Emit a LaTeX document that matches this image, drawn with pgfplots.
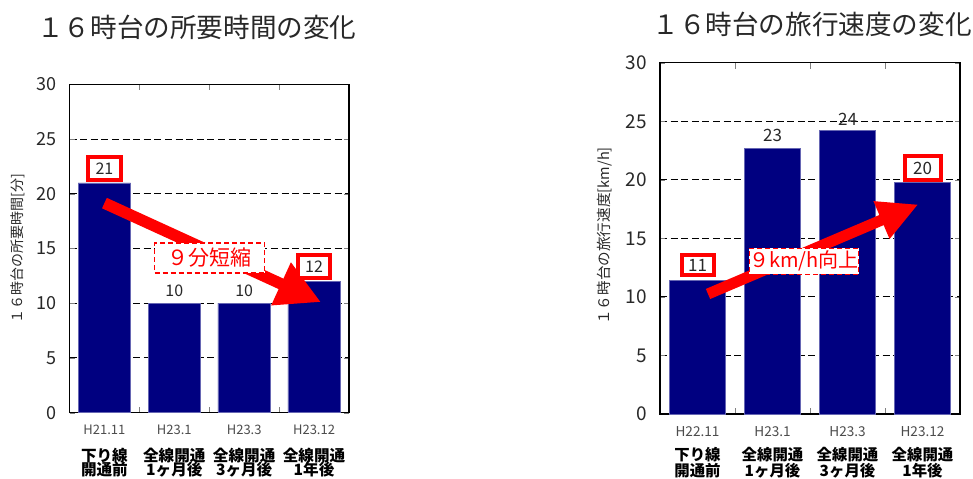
\documentclass[border=0pt]{standalone}
\usepackage{pgfplots}
\pgfplotsset{compat=1.18}
\usepackage{fontspec}
\setmainfont{Noto Sans CJK JP}
\usetikzlibrary{arrows.meta}
\definecolor{barnavy}{RGB}{0,0,128}
\definecolor{annred}{RGB}{255,0,0}
\definecolor{txtgray}{RGB}{40,40,40}
\newcommand\tightlines{\setlength{\lineskiplimit}{-20pt}\setlength{\lineskip}{0pt}}
\pgfplotsset{
  mybars/.style={
    scale only axis,
    ybar, bar width=0.75, bar shift=0pt,
    xmin=-0.5, xmax=3.5, ymin=0, ymax=30,
    ytick={0,5,...,30},
    xtick={0,1,2,3},
    minor xtick={0.5,1.5,2.5},
    major x tick style={draw=none},
    minor tick length=3pt,
    major tick length=2.5pt,
    tick align=inside,
    ymajorgrids,
    grid style={black, dash pattern=on 3.5pt off 1.8pt, line width=0.5pt},
    axis line style={black, line width=0.6pt},
    /pgf/number format/assume math mode=true,
    xticklabel style={align=center, anchor=north},
    yticklabel style={text=txtgray, xshift=-3pt},
    ylabel style={anchor=center, text=txtgray},
    title style={anchor=center, text=txtgray, font=\fontsize{13.3}{15}\selectfont},
  },
}
\tikzset{
  valbox/.style={draw=annred, line width=2pt, fill=white, inner sep=0pt, text=txtgray},
  dbox/.style={draw=annred, line width=0.6pt, dash pattern=on 2.5pt off 1.5pt, fill=white, inner sep=0pt, text=annred},
}
\begin{document}
\begin{tikzpicture}[x=1pt,y=1pt]
\useasboundingbox (0,0) rectangle (486.5,239);
% ---------------- left chart ----------------
\begin{axis}[mybars,
  at={(34.75pt,32.65pt)}, anchor=south west,
  width=139.75pt, height=164.2pt,
  yticklabel style={font=\fontsize{9}{10}\selectfont},
  xticklabel style={font=\fontsize{7.8}{7}\selectfont\tightlines, yshift=-2.5pt},
  xticklabels={
    {\textcolor{black!70}{\fontsize{6.5}{7}\selectfont H21.11}\\[6.5pt]\textbf{下り線}\\\textbf{開通前}},
    {\textcolor{black!70}{\fontsize{6.5}{7}\selectfont H23.1}\\[6.5pt]\textbf{全線開通}\\\textbf{1ヶ月後}},
    {\textcolor{black!70}{\fontsize{6.5}{7}\selectfont H23.3}\\[6.5pt]\textbf{全線開通}\\\textbf{3ヶ月後}},
    {\textcolor{black!70}{\fontsize{6.5}{7}\selectfont H23.12}\\[6.5pt]\textbf{全線開通}\\\textbf{1年後}}},
  ylabel={１６時台の所要時間[分]},
  ylabel style={at={(axis description cs:-0.184,0.5)}, font=\fontsize{7}{8}\selectfont},
  title={１６時台の所要時間の変化},
  title style={at={(axis description cs:0.456,1.137)}},
]
\addplot[fill=barnavy, draw=barnavy!60!white, line width=0.3pt] coordinates {(0,21) (1,10) (2,10) (3,12)};
\draw[annred, line width=5.75pt, -{Triangle[length=22pt,width=22pt]}] (axis cs:0.0,19.15) -- (axis cs:3.1,10.1);
\node[valbox, minimum width=16.5pt, minimum height=11.5pt, font=\fontsize{8}{9}\selectfont] at (axis cs:0,22.3) {21};
\node[valbox, minimum width=16pt, minimum height=11.5pt, font=\fontsize{8}{9}\selectfont] at (axis cs:3,13.35) {12};
\node[text=txtgray, font=\fontsize{8}{9}\selectfont] at (axis cs:1,11.1) {10};
\node[text=txtgray, font=\fontsize{8}{9}\selectfont] at (axis cs:2,11.1) {10};
\node[dbox, minimum width=55pt, minimum height=15pt, font=\fontsize{10.5}{12}\selectfont] at (axis cs:1.507,14.13) {９分短縮};
\end{axis}
% ---------------- right chart ----------------
\begin{axis}[mybars,
  at={(330pt,32pt)}, anchor=south west,
  width=150pt, height=175.65pt,
  yticklabel style={font=\fontsize{9.5}{11}\selectfont},
  xticklabel style={font=\fontsize{7.7}{8.3}\selectfont, yshift=-2.8pt},
  xticklabels={
    {\textcolor{black!70}{\fontsize{6.8}{7}\selectfont H22.11}\\[3.5pt]\textbf{下り線}\\\textbf{開通前}},
    {\textcolor{black!70}{\fontsize{6.8}{7}\selectfont H23.1}\\[3.5pt]\textbf{全線開通}\\\textbf{1ヶ月後}},
    {\textcolor{black!70}{\fontsize{6.8}{7}\selectfont H23.3}\\[3.5pt]\textbf{全線開通}\\\textbf{3ヶ月後}},
    {\textcolor{black!70}{\fontsize{6.8}{7}\selectfont H23.12}\\[3.5pt]\textbf{全線開通}\\\textbf{1年後}}},
  ylabel={１６時台の旅行速度[km/h]},
  ylabel style={at={(axis description cs:-0.183,0.507)}, font=\fontsize{7.3}{8}\selectfont},
  title={１６時台の旅行速度の変化},
  title style={at={(axis description cs:0.507,1.076)}},
]
\addplot[fill=barnavy, draw=barnavy!60!white, line width=0.3pt] coordinates {(0,11.4) (1,22.7) (2,24.2) (3,19.8)};
\draw[annred, line width=5.5pt, -{Triangle[length=20pt,width=19pt]}] (axis cs:0.14,10.25) -- (axis cs:2.944,17.9);
\node[valbox, minimum width=16pt, minimum height=10pt, font=\fontsize{8.5}{9}\selectfont] at (axis cs:0,12.72) {11};
\node[valbox, minimum width=18pt, minimum height=12pt, font=\fontsize{8.5}{9}\selectfont] at (axis cs:3,21.0) {20};
\node[text=txtgray, font=\fontsize{8.5}{9}\selectfont] at (axis cs:1,23.8) {23};
\node[text=txtgray, font=\fontsize{8.5}{9}\selectfont] at (axis cs:2,25.2) {24};
\node[dbox, minimum width=52.5pt, minimum height=13pt, font=\fontsize{10}{12}\selectfont] at (axis cs:1.42,13.04) {９km/h向上};
\end{axis}
\end{tikzpicture}
\end{document}
